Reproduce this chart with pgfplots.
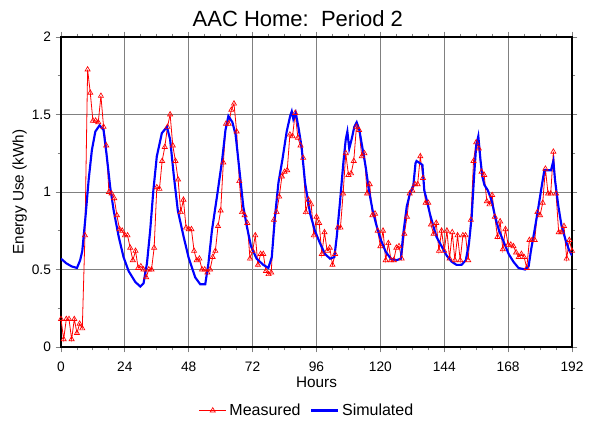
\documentclass[border=0pt]{standalone}
\usepackage{pgfplots}
\pgfplotsset{compat=1.18}
\usepackage{fontspec}
\setmainfont{Liberation Sans}
\begin{document}
\begin{tikzpicture}
\useasboundingbox (-45.75pt,-62.25pt) rectangle (402pt,260.25pt);
\begin{axis}[
  at={(0pt,0pt)}, anchor=south west,
  scale only axis, width=383.25pt, height=232.5pt,
  xmin=0, xmax=192, ymin=0, ymax=2,
  xtick={0,24,...,192}, ytick={0,0.5,1,1.5,2},
  minor x tick num=3, minor y tick num=1,
  yticklabels={0,0.5,1,1.5,2},
  grid=major, major grid style={gray, line width=0.75pt},
  tick style={gray, line width=0.7pt},
  tick align=outside, major tick length=4pt, minor tick length=2.5pt,
  axis line style={line width=0.9pt},
  /pgf/number format/assume math mode=true,
  tick label style={font=\fontsize{10.3}{12}\selectfont},
  xticklabel style={yshift=-4pt},
  title={AAC Home:\ \ Period 2},
  title style={font=\fontsize{16.5}{18}\selectfont, yshift=-1.5pt, xshift=-14pt},
  xlabel={Hours}, ylabel={Energy Use (kWh)},
  label style={font=\fontsize{11.5}{13}\selectfont},
  xlabel style={yshift=3pt},
  ylabel style={yshift=-3pt},
  legend style={draw=none, fill=none, at={(0.482,-0.165)}, anchor=north,
    font=\fontsize{12}{14}\selectfont, legend columns=2,
    /tikz/every even column/.append style={column sep=5pt}},
  legend cell align=left,
  legend image code/.code={\draw[mark repeat=2,mark phase=2,#1] plot coordinates {(0cm,0cm)(0.36cm,0cm)(0.72cm,0cm)};},
]
\addplot[red, line width=0.6pt, mark=triangle, mark size=2.2pt, mark options={solid, fill=none, line width=0.5pt}] coordinates {
(0,0.18)(1,0.05)(2,0.18)(3,0.18)(4,0.05)(5,0.18)(6,0.09)(7,0.15)(8,0.12)(9,0.72)
(10,1.79)(11,1.64)(12,1.46)(13,1.46)(14,1.45)(15,1.62)(16,1.42)(17,1.30)(18,1.00)(19,0.99)
(20,0.96)(21,0.85)(22,0.76)(23,0.75)(24,0.72)(25,0.72)(26,0.64)(27,0.56)(28,0.62)(29,0.51)
(30,0.52)(31,0.50)(32,0.45)(33,0.50)(34,0.50)(35,0.64)(36,1.03)(37,1.02)(38,1.20)(39,1.29)
(40,1.42)(41,1.50)(42,1.30)(43,1.20)(44,1.08)(45,0.87)(46,0.95)(47,0.77)(48,0.76)(49,0.76)
(50,0.62)(51,0.56)(52,0.57)(53,0.50)(54,0.50)(55,0.48)(56,0.50)(57,0.58)(58,0.62)(59,0.78)
(60,0.88)(61,1.19)(62,1.44)(63,1.44)(64,1.53)(65,1.57)(66,1.39)(67,1.07)(68,0.87)(69,0.85)
(70,0.80)(71,0.57)(72,0.62)(73,0.72)(74,0.53)(75,0.60)(76,0.60)(77,0.49)(78,0.47)(79,0.48)
(80,0.82)(81,0.87)(82,0.97)(83,1.10)(84,1.13)(85,1.14)(86,1.37)(87,1.36)(88,1.51)(89,1.35)
(90,1.30)(91,1.22)(92,0.87)(93,0.95)(94,0.92)(95,0.72)(96,0.84)(97,0.80)(98,0.60)(99,0.74)
(100,0.62)(101,0.64)(102,0.53)(103,0.60)(104,0.77)(105,0.77)(106,0.99)(107,1.25)(108,1.11)(109,1.12)
(110,1.20)(111,1.42)(112,1.40)(113,1.23)(114,1.25)(115,0.99)(116,1.05)(117,0.85)(118,0.86)(119,0.75)
(120,0.65)(121,0.75)(122,0.56)(123,0.67)(124,0.56)(125,0.56)(126,0.64)(127,0.65)(128,0.57)(129,0.73)
(130,0.84)(131,0.99)(132,1.01)(133,1.05)(134,1.05)(135,1.23)(136,1.09)(137,0.93)(138,0.93)(139,0.79)
(140,0.73)(141,0.80)(142,0.62)(143,0.75)(144,0.62)(145,0.75)(146,0.57)(147,0.74)(148,0.56)(149,0.72)
(150,0.56)(151,0.72)(152,0.72)(153,0.56)(154,0.82)(155,1.20)(156,1.32)(157,1.28)(158,1.13)(159,1.11)
(160,0.94)(161,0.92)(162,0.98)(163,0.84)(164,0.71)(165,0.81)(166,0.63)(167,0.76)(168,0.66)(169,0.66)
(170,0.65)(171,0.61)(172,0.58)(173,0.60)(174,0.58)(175,0.51)(176,0.69)(177,0.69)(178,0.69)(179,0.87)
(180,0.85)(181,0.93)(182,1.15)(183,0.99)(184,0.99)(185,1.26)(186,0.99)(187,0.74)(188,0.74)(189,0.78)
(190,0.57)(191,0.69)(192,0.62)
};
\addlegendentry{Measured}
\addplot[blue, line width=1.6pt, no marks] coordinates {
(0,0.57)(2,0.54)(4,0.52)(6,0.51)(7.2,0.56)(8,0.62)(9.1,0.82)(10.4,1.08)(11.6,1.27)(12.9,1.39)
(14.5,1.43)(16,1.40)(17.2,1.23)(18.5,1.03)(19.8,0.88)(21.7,0.71)(23.5,0.58)(25.4,0.49)(27.9,0.42)(29.8,0.39)
(31,0.41)(32.3,0.54)(33.5,0.75)(34.7,1.01)(36,1.23)(37.9,1.38)(39.8,1.42)(41,1.34)(42.3,1.12)(43.9,0.88)
(46.1,0.71)(47.9,0.58)(50.4,0.45)(52.3,0.405)(54.2,0.405)(55.4,0.54)(56.7,0.75)(58.6,0.97)(60.5,1.20)(61.8,1.40)
(62.9,1.49)(64.4,1.45)(65.6,1.37)(67.3,1.10)(68.5,0.905)(69.8,0.78)(71.4,0.65)(73.5,0.57)(76,0.53)(77.9,0.51)
(79.2,0.58)(80.4,0.84)(81.7,1.06)(83.2,1.21)(84.8,1.39)(86.1,1.49)(86.7,1.52)(87.3,1.47)(88.2,1.51)(89.2,1.42)
(90.4,1.29)(91.7,1.06)(93.6,0.86)(95.4,0.75)(97.3,0.67)(99.2,0.60)(101.1,0.57)(102.7,0.58)(103.6,0.71)(104.8,0.93)
(106.1,1.19)(107,1.34)(107.6,1.39)(108.3,1.28)(109.2,1.34)(110.2,1.42)(111.1,1.45)(112.1,1.40)(113.2,1.29)(114.5,1.16)
(115.7,1.01)(117.1,0.88)(118.6,0.78)(120.2,0.69)(122,0.615)(123.9,0.57)(126.1,0.56)(127.7,0.57)(128.6,0.73)(129.9,0.905)
(131.1,0.99)(132.4,1.045)(133.2,1.185)(133.6,1.20)(135.8,1.175)(136.5,1.01)(137.4,0.95)(138.6,0.86)(139.9,0.78)(141.1,0.71)
(143,0.65)(144.9,0.59)(146.8,0.55)(148.6,0.53)(150.5,0.53)(152.1,0.56)(153.3,0.67)(154.3,0.84)(155.2,1.10)(156,1.30)
(156.8,1.36)(157.6,1.21)(158.3,1.10)(159.1,1.045)(160.4,1.01)(161.9,0.94)(163.1,0.84)(164.6,0.75)(166.3,0.68)(168.2,0.60)
(170,0.55)(171.9,0.51)(174.4,0.50)(175.7,0.52)(176.6,0.625)(177.9,0.75)(179.4,0.905)(180.6,1.035)(181.6,1.14)(182.9,1.14)
(184.1,1.14)(185,1.20)(185.6,1.08)(186.9,0.905)(188.1,0.78)(189.6,0.69)(190.9,0.625)(192,0.59)
};
\addlegendentry{Simulated}
\end{axis}
\end{tikzpicture}
\end{document}
